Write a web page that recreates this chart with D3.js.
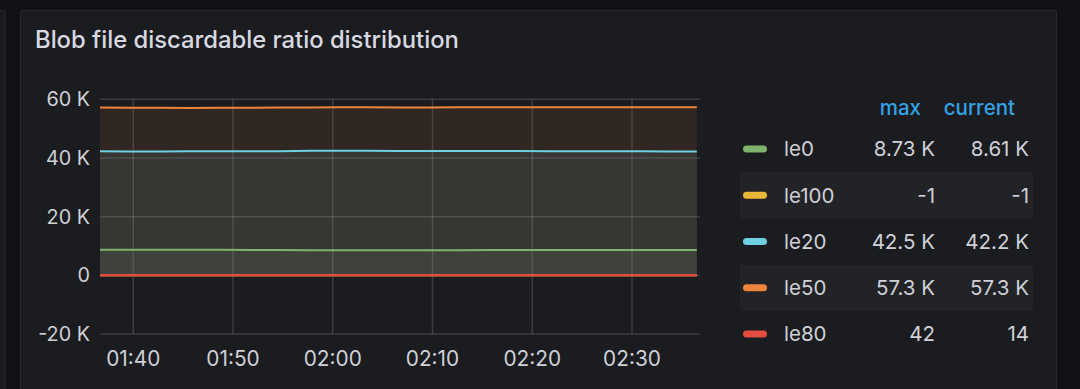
<!DOCTYPE html>
<html><head><meta charset="utf-8">
<script src="https://cdn.jsdelivr.net/npm/d3@7"></script>
<style>
html,body{margin:0;padding:0;background:#111216;}
svg{display:block;font-family:Inter, "Noto Sans", sans-serif;}
</style></head>
<body>
<svg id="c" width="1080" height="389"></svg>
<script>
const title = "Blob file discardable ratio distribution";
const times = ["01:36:40","01:39:40","01:42:40","01:45:40","01:48:40","01:51:40","01:54:40","01:57:40","02:00:40","02:03:40","02:06:40","02:09:40","02:12:40","02:15:40","02:18:40","02:21:40","02:24:40","02:27:40","02:30:40","02:33:40","02:36:30"];
const seriesNames = ["le0","le100","le20","le50","le80"];
const seriesColors = ["#7EB26D","#EAB839","#6ED0E0","#EF843C","#E24D42"];
const le0 = [8730,8730,8720,8700,8680,8660,8650,8560,8550,8560,8560,8570,8580,8590,8600,8600,8610,8610,8620,8610,8610];
const le100 = [-1,-1,-1,-1,-1,-1,-1,-1,-1,-1,-1,-1,-1,-1,-1,-1,-1,-1,-1,-1,-1];
const le20 = [42250,42200,42200,42250,42300,42300,42300,42500,42500,42450,42400,42400,42400,42350,42350,42300,42300,42250,42250,42200,42200];
const le50 = [57200,57150,57100,57050,57100,57150,57200,57200,57250,57250,57200,57200,57250,57250,57250,57300,57300,57300,57300,57300,57300];
const le80 = [30,28,42,35,22,18,25,30,20,16,22,26,19,15,20,24,18,16,20,17,14];
const legendMax = ["8.73 K","-1","42.5 K","57.3 K","42"];
const legendCurrent = ["8.61 K","-1","42.2 K","57.3 K","14"];
const yTicks = [-20000,0,20000,40000,60000];
const xTickLabels = ["01:40","01:50","02:00","02:10","02:20","02:30"];
const timeDomain = ["01:36:40","02:36:49"];

const seriesValues = [le0, le100, le20, le50, le80];
const parse = d3.timeParse("%H:%M:%S");
const svg = d3.select("#c");

// background panels
svg.append("rect").attr("x",-10).attr("y",10.5).attr("width",15).attr("height",400)
  .attr("fill","#1b1c20").attr("stroke","#25262b");
svg.append("rect").attr("x",20.5).attr("y",10.5).attr("width",1036).attr("height",400)
  .attr("rx",2).attr("fill","#1b1c20").attr("stroke","#27282d");

svg.append("text").attr("x",35).attr("y",48).text(title)
  .attr("fill","#d8d9e0").attr("font-size",23.8).attr("font-weight",500);

const x = d3.scaleTime().domain(timeDomain.map(parse)).range([100,700]);
const y = d3.scaleLinear().domain([-20000,60000]).range([334,99.3]);

// grid
const g = svg.append("g");
g.selectAll(".hg").data(yTicks).join("line")
  .attr("x1",100).attr("x2",700).attr("y1",d=>y(d)).attr("y2",d=>y(d))
  .attr("stroke","rgba(204,204,220,0.18)").attr("stroke-width",1.5);
const xTicks = xTickLabels.map(t=>parse(t+":00"));
g.selectAll(".vg").data(xTicks).join("line")
  .attr("x1",d=>x(d)).attr("x2",d=>x(d)).attr("y1",99.3).attr("y2",334)
  .attr("stroke","rgba(204,204,220,0.18)").attr("stroke-width",1.5);

// y labels
svg.append("g").selectAll("text").data(yTicks).join("text")
  .attr("x",90).attr("y",d=>y(d)).attr("dy","0.35em").attr("text-anchor","end")
  .attr("fill","#cfd0d8").attr("font-size",19.8)
  .text(d=>d===0?"0":(d/1000)+" K");
// x labels
svg.append("g").selectAll("text").data(xTicks).join("text")
  .attr("x",d=>x(d)).attr("y",366).attr("text-anchor","middle")
  .attr("fill","#cfd0d8").attr("font-size",20.8)
  .text((d,i)=>xTickLabels[i]);

// series
const tp = times.map(parse);
const area = d3.area().x((d,i)=>x(tp[i])).y0(y(0)).y1(d=>y(d));
const line = d3.line().x((d,i)=>x(tp[i])).y(d=>y(d));
seriesValues.forEach((vals,si)=>{
  svg.append("path").attr("d",area(vals)).attr("fill",seriesColors[si]).attr("fill-opacity",0.1);
});
seriesValues.forEach((vals,si)=>{
  svg.append("path").attr("d",line(vals)).attr("fill","none")
    .attr("stroke",seriesColors[si]).attr("stroke-width",si===4?2.5:2);
});

// legend
const lg = svg.append("g");
lg.append("text").attr("x",921).attr("y",115).attr("text-anchor","end")
  .attr("fill","#33a2e5").attr("font-size",20.5).attr("font-weight",500).text("max");
lg.append("text").attr("x",1015).attr("y",115).attr("text-anchor","end")
  .attr("fill","#33a2e5").attr("font-size",20.5).attr("font-weight",500).text("current");
const rowY = d3.scaleLinear().domain([0,4]).range([149,334]);
seriesNames.forEach((n,i)=>{
  const cy = rowY(i);
  if(i%2===1){
    lg.append("rect").attr("x",740).attr("y",cy-23).attr("width",293).attr("height",46)
      .attr("fill","#222327");
  }
  lg.append("rect").attr("x",743).attr("y",cy-3.5).attr("width",24).attr("height",7)
    .attr("rx",3.5).attr("fill",seriesColors[i]);
  lg.append("text").attr("x",784).attr("y",cy).attr("dy","0.36em")
    .attr("fill","#cfd0d8").attr("font-size",20.5).text(n);
  lg.append("text").attr("x",935).attr("y",cy).attr("dy","0.36em").attr("text-anchor","end")
    .attr("fill","#cfd0d8").attr("font-size",20.5).text(legendMax[i]);
  lg.append("text").attr("x",1029).attr("y",cy).attr("dy","0.36em").attr("text-anchor","end")
    .attr("fill","#cfd0d8").attr("font-size",20.5).text(legendCurrent[i]);
});
</script>
</body></html>
